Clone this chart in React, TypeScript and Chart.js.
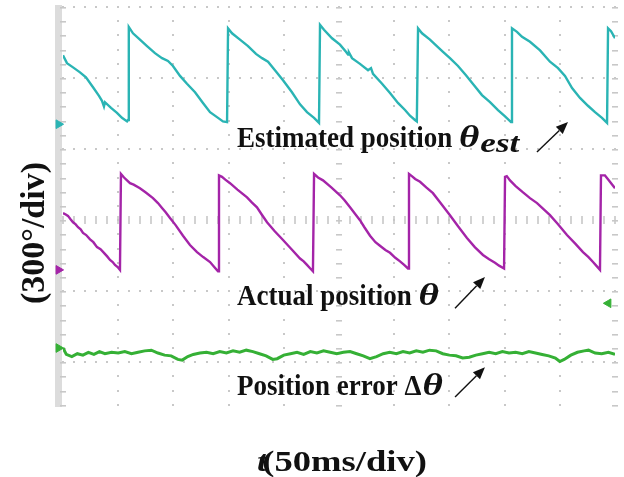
import React, { useEffect, useRef } from "react";
import { Chart, registerables } from "chart.js";

Chart.register(...registerables);

// time in ms (50 ms/div), value in divisions (300°/div, 0 = centre line)
const cyanT = [0, 3.6, 9.1, 15.4, 20.8, 27.2, 32.6, 35.3, 37.1, 38.0, 43.5, 48.9, 53.4, 58.0, 58.9,
  59.6, 63.4, 69.7, 76.1, 83.3, 89.7, 95.1, 99.6, 106.0, 112.3, 119.6, 126.8, 133.2, 139.5, 144.9, 148.6,
  149.5, 153.1, 160.3, 167.6, 174.8, 180.3, 185.7, 192.0, 199.3, 207.4, 214.7, 221.0, 227.4, 231.9,
  232.8, 236.4, 243.7, 250.9, 256.3, 258.2, 259.0, 261.8, 269.0, 276.3, 279.0, 280.8, 289.0, 296.2, 303.4, 309.8, 314.3, 318.8, 320.5,
  321.6, 325.2, 332.4, 337.9, 344.2, 350.5, 357.8, 365.0, 372.3, 379.5, 386.8, 394.0, 400.4, 405.8,
  406.7, 411.2, 415.8, 423.0, 432.1, 441.1, 448.4, 454.7, 461.1, 468.3, 475.5, 481.9, 488.2, 492.8,
  493.7, 496.4, 500.0];
const cyanV = [2.32, 2.21, 2.15, 2.08, 2.01, 1.87, 1.75, 1.68, 1.60, 1.66, 1.58, 1.51, 1.44, 1.39, 1.41,
  2.72, 2.63, 2.54, 2.45, 2.35, 2.28, 2.24, 2.17, 2.03, 1.92, 1.80, 1.65, 1.52, 1.45, 1.39, 1.38,
  2.70, 2.63, 2.54, 2.45, 2.34, 2.28, 2.23, 2.11, 1.97, 1.80, 1.63, 1.52, 1.44, 1.37,
  2.75, 2.68, 2.56, 2.47, 2.37, 2.33, 2.36, 2.28, 2.20, 2.11, 2.14, 2.06, 1.92, 1.79, 1.65, 1.55, 1.47, 1.41, 1.39,
  2.70, 2.63, 2.54, 2.46, 2.37, 2.28, 2.17, 2.04, 1.90, 1.76, 1.66, 1.55, 1.46, 1.38,
  2.70, 2.65, 2.58, 2.51, 2.39, 2.23, 2.14, 2.03, 1.86, 1.72, 1.61, 1.52, 1.44, 1.37,
  2.70, 2.66, 2.56];

const magentaT = [0, 2.5, 4.5, 7, 9.1, 11.5, 13.6, 16, 18.1, 21, 24.5, 27.5, 30.8, 34, 37.1, 40, 42.6, 45, 47.1, 49.5, 51.6,
  52.5, 55.3, 58, 60.7, 64, 69.7, 75, 81.5, 86, 89.7, 93, 96.9, 102, 108.7, 115, 121.4, 127, 133.2, 137, 140.4,
  141.3, 144, 147, 151.3, 158, 166.7, 171, 175.7, 180, 184.8, 192, 199.3, 207, 214.7, 218, 221, 224, 226.4,
  227.4, 231, 235.5, 243, 250.9, 255, 260, 265, 269, 273, 278.1, 283, 287.1, 292, 296.2, 301, 305.3, 309, 312.5,
  313.4, 316, 319, 323.4, 329, 335.1, 342, 350.5, 358, 365.9, 373, 380.4, 386, 391.3, 395, 399.5,
  400.4, 402, 404.9, 410, 416.7, 423, 429.4, 435, 441.1, 448, 456.5, 464, 471, 476, 480.1, 483, 486.4,
  487.3, 490.9, 494, 500];
const magentaV = [0.10, 0.08, 0.06, 0.01, -0.03, -0.06, -0.10, -0.13, -0.18, -0.21, -0.27, -0.31, -0.38, -0.41, -0.46, -0.51, -0.56, -0.59, -0.63, -0.66, -0.70,
  0.65, 0.60, 0.56, 0.52, 0.50, 0.45, 0.39, 0.31, 0.24, 0.17, 0.11, 0.03, -0.07, -0.22, -0.35, -0.45, -0.52, -0.59, -0.66, -0.72,
  0.63, 0.61, 0.57, 0.52, 0.43, 0.32, 0.25, 0.18, 0.08, -0.03, -0.16, -0.28, -0.41, -0.54, -0.58, -0.63, -0.68, -0.72,
  0.65, 0.60, 0.56, 0.46, 0.35, 0.28, 0.18, 0.08, 0.00, -0.10, -0.22, -0.31, -0.36, -0.42, -0.46, -0.53, -0.58, -0.63, -0.68,
  0.65, 0.62, 0.58, 0.54, 0.46, 0.38, 0.24, 0.07, -0.09, -0.25, -0.38, -0.49, -0.55, -0.60, -0.64, -0.68,
  0.61, 0.62, 0.56, 0.48, 0.39, 0.31, 0.24, 0.16, 0.07, -0.05, -0.21, -0.33, -0.45, -0.52, -0.59, -0.64, -0.70,
  0.63, 0.63, 0.57, 0.45];

const greenT = [0, 3, 8, 13, 18, 23, 28, 33, 38, 44, 50, 56, 62, 68, 74, 80, 86, 92, 98, 104, 108, 113, 118, 124, 130,
  136, 142, 148, 154, 160, 166, 172, 178, 184, 190, 194, 200, 206, 212, 218, 224, 230, 236, 242, 248, 254, 260,
  266, 272, 278, 284, 290, 296, 302, 308, 314, 320, 326, 332, 338, 344, 350, 356, 362, 368, 374, 380, 386, 392,
  398, 404, 410, 416, 422, 428, 434, 440, 446, 450, 454, 460, 466, 472, 476, 482, 488, 494, 500];
const greenV = [-1.80, -1.89, -1.92, -1.88, -1.90, -1.86, -1.89, -1.85, -1.88, -1.86, -1.87, -1.85, -1.88, -1.86, -1.84, -1.83, -1.87, -1.90, -1.91, -1.96, -1.97, -1.92, -1.89, -1.87, -1.86,
  -1.88, -1.85, -1.87, -1.84, -1.86, -1.83, -1.85, -1.88, -1.91, -1.96, -1.95, -1.90, -1.88, -1.86, -1.89, -1.85, -1.87, -1.84, -1.86, -1.88, -1.86, -1.85,
  -1.88, -1.91, -1.95, -1.92, -1.88, -1.86, -1.88, -1.85, -1.87, -1.84, -1.86, -1.83, -1.84, -1.88, -1.90, -1.91, -1.94, -1.93, -1.90, -1.88, -1.86, -1.88,
  -1.85, -1.87, -1.86, -1.88, -1.85, -1.87, -1.89, -1.91, -1.94, -1.99, -1.96, -1.90, -1.86, -1.84, -1.83, -1.87, -1.88, -1.86, -1.89];

// channel ground markers: cyan, green (right), magenta, green (left)
const markerT = [-4, 494, -4, -4];
const markerV = [1.35, -1.17, -0.70, -1.80];
const markerRot = [90, -90, 90, 90];

const CYAN = "#2ab4b4";
const MAGENTA = "#a424a8";
const GREEN = "#35b035";
const markerColors = [CYAN, GREEN, MAGENTA, GREEN];

const X_MIN = 0, X_MAX = 500, X_DIV = 50;
const Y_MIN = -2.63, Y_MAX = 3.0;

const SERIF = '"Liberation Serif", "Times New Roman", Times, serif';

const notes = [
  { t: 157.6, v: 1.03, text: "Estimated position ", sym: "θ", pre: "", sub: "est", arrow: [429.3, 0.96, 457.4, 1.38] },
  { t: 157.6, v: -1.2, text: "Actual position ", sym: "θ", pre: "", sub: "", arrow: [355.1, -1.24, 382.2, -0.8] },
  { t: 157.6, v: -2.46, text: "Position error ", sym: "θ", pre: "Δ", sub: "", arrow: [355.1, -2.49, 382.2, -2.07] },
];

const toPts = (t: number[], v: number[]) => t.map((x, i) => ({ x, y: v[i] }));

const scopeGrid = {
  id: "scopeGrid",
  beforeDatasetsDraw(chart: any) {
    const { ctx, chartArea, scales } = chart;
    const { left, top, bottom } = chartArea;
    const xs = scales.x, ys = scales.y;
    ctx.save();
    ctx.fillStyle = "#dcdcdc";
    ctx.fillRect(left - 8, top - 2, 7, bottom - top + 2);
    ctx.fillStyle = "#c8c8c8";
    const yMinor: number[] = [];
    for (let k = Math.ceil(Y_MIN * 5); k <= Math.floor(Y_MAX * 5); k++) yMinor.push(k / 5);
    const xMinor: number[] = [];
    for (let k = 0; k <= (X_MAX - X_MIN) / (X_DIV / 5); k++) xMinor.push(X_MIN + k * (X_DIV / 5));
    for (let t = X_MIN; t <= X_MAX; t += X_DIV) {
      const px = Math.round(xs.getPixelForValue(t));
      const edge = t === X_MIN || t === X_MAX;
      const centre = t === (X_MIN + X_MAX) / 2;
      for (const v of yMinor) {
        const py = Math.round(ys.getPixelForValue(v));
        if (edge || centre) ctx.fillRect(px - 3, py, 6, 1.6);
        else ctx.fillRect(px - 1, py - 1, 2, 2);
      }
    }
    for (let v = Math.ceil(Y_MIN); v <= Math.floor(Y_MAX); v++) {
      const py = Math.round(ys.getPixelForValue(v));
      for (const t of xMinor) {
        const px = Math.round(xs.getPixelForValue(t));
        if (v === 0) ctx.fillRect(px - 0.8, py - 4, 1.6, 8);
        else ctx.fillRect(px - 1, py - 1, 2, 2);
      }
    }
    ctx.restore();
  },
};

const drawArrow = (ctx: any, x1: number, y1: number, x2: number, y2: number) => {
  const ang = Math.atan2(y2 - y1, x2 - x1);
  const L = 12, W = 5;
  const bx = x2 - L * Math.cos(ang), by = y2 - L * Math.sin(ang);
  ctx.strokeStyle = "#111";
  ctx.fillStyle = "#111";
  ctx.lineWidth = 1.4;
  ctx.beginPath();
  ctx.moveTo(x1, y1);
  ctx.lineTo(bx, by);
  ctx.stroke();
  ctx.beginPath();
  ctx.moveTo(x2, y2);
  ctx.lineTo(bx + W * Math.sin(ang), by - W * Math.cos(ang));
  ctx.lineTo(bx - W * Math.sin(ang), by + W * Math.cos(ang));
  ctx.closePath();
  ctx.fill();
};

const SYM_STRETCH = 1.4;

const scopeText = {
  id: "scopeText",
  afterDatasetsDraw(chart: any) {
    const { ctx, scales, chartArea } = chart;
    const xs = scales.x, ys = scales.y;
    ctx.save();
    ctx.fillStyle = "#111";
    ctx.textBaseline = "alphabetic";
    ctx.textAlign = "left";
    for (const n of notes) {
      const x0 = xs.getPixelForValue(n.t);
      const y0 = ys.getPixelForValue(n.v);
      ctx.save();
      ctx.translate(x0, y0);
      ctx.scale(1, 1.1);
      let x = 0;
      ctx.font = `bold 27px ${SERIF}`;
      ctx.fillText(n.text, x, 0);
      x += ctx.measureText(n.text).width;
      if (n.pre) {
        ctx.fillText(n.pre, x, 0);
        x += ctx.measureText(n.pre).width + 1;
      }
      ctx.font = `italic bold 28px ${SERIF}`;
      ctx.save();
      ctx.translate(x, 0);
      ctx.scale(SYM_STRETCH, 1);
      ctx.fillText(n.sym, 0, 0);
      ctx.restore();
      x += ctx.measureText(n.sym).width * SYM_STRETCH;
      if (n.sub) {
        ctx.font = `italic bold 25px ${SERIF}`;
        ctx.save();
        ctx.translate(x + 1, 5);
        ctx.scale(SYM_STRETCH, 1);
        ctx.fillText(n.sub, 0, 0);
        ctx.restore();
      }
      ctx.restore();
      const [t1, v1, t2, v2] = n.arrow;
      drawArrow(ctx, xs.getPixelForValue(t1), ys.getPixelForValue(v1), xs.getPixelForValue(t2), ys.getPixelForValue(v2));
    }
    ctx.save();
    ctx.translate(35, (chartArea.top + chartArea.bottom) / 2 + 26);
    ctx.rotate(-Math.PI / 2);
    ctx.textAlign = "center";
    ctx.textBaseline = "middle";
    ctx.fillStyle = "#111";
    ctx.font = `bold 34px ${SERIF}`;
    ctx.fillText("(300°/div)", 0, 0);
    ctx.restore();
    ctx.save();
    ctx.translate((chartArea.left + chartArea.right) / 2 + 3, 471);
    ctx.scale(1.22, 1);
    ctx.fillStyle = "#111";
    ctx.font = `bold 30px ${SERIF}`;
    const main = "(50ms/div)";
    const wMain = ctx.measureText(main).width;
    ctx.font = `italic bold 30px ${SERIF}`;
    const tW = ctx.measureText("t").width;
    const start = -(wMain + tW * 0.5) / 2;
    ctx.fillText("t", start, 0);
    ctx.font = `bold 30px ${SERIF}`;
    ctx.fillText(main, start + tW * 0.5, 0);
    ctx.restore();
    ctx.restore();
  },
};

export default function App() {
  const ref = useRef<HTMLCanvasElement | null>(null);
  useEffect(() => {
    if (!ref.current) return;
    const line = (data: any, color: string, w: number) => ({
      type: "line",
      data,
      borderColor: color,
      backgroundColor: color,
      borderWidth: w,
      pointRadius: 0,
      tension: 0,
      fill: false,
    });
    const chart = new Chart(ref.current, {
      type: "line",
      data: {
        datasets: [
          line(toPts(cyanT, cyanV), CYAN, 2.4),
          line(toPts(magentaT, magentaV), MAGENTA, 2.4),
          line(toPts(greenT, greenV), GREEN, 3),
          {
            type: "scatter",
            data: toPts(markerT, markerV),
            showLine: false,
            pointStyle: "triangle",
            pointRadius: 5,
            pointRotation: markerRot,
            pointBackgroundColor: markerColors,
            pointBorderColor: markerColors,
            clip: false,
          } as any,
        ] as any,
      },
      options: {
        responsive: false,
        animation: false,
        layout: { padding: { left: 63, top: 7, right: 9, bottom: 70 } },
        plugins: { legend: { display: false }, tooltip: { enabled: false }, title: { display: false } },
        scales: {
          x: { type: "linear", min: X_MIN, max: X_MAX, display: false },
          y: { type: "linear", min: Y_MIN, max: Y_MAX, display: false },
        },
      },
      plugins: [scopeGrid, scopeText],
    } as any);
    const fonts: any = (document as any).fonts;
    if (fonts && fonts.load) {
      Promise.all([
        fonts.load(`bold 28px "Liberation Serif"`),
        fonts.load(`italic bold 28px "Liberation Serif"`),
      ]).then(() => chart.draw()).catch(() => {});
    }
    return () => chart.destroy();
  }, []);
  return (
    <div style={{ position: "absolute", left: 0, top: 0, width: 624, height: 477, background: "#fff" }}>
      <canvas ref={ref} width={624} height={477} />
    </div>
  );
}
